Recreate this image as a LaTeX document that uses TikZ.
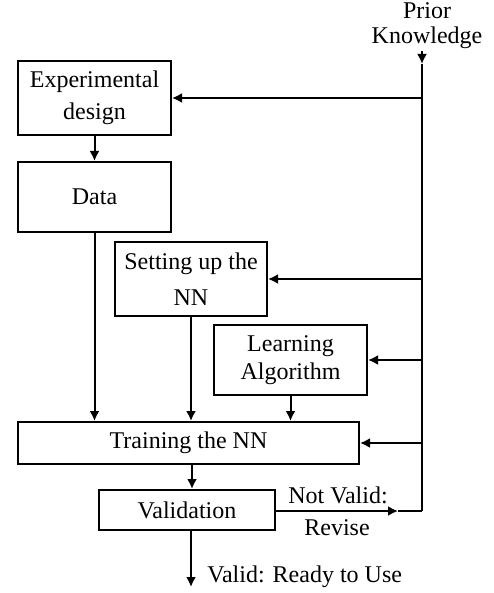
\documentclass[tikz,border=0pt]{standalone}
\usepackage{fontspec}
\setmainfont{Liberation Serif}
\usetikzlibrary{arrows.meta}
\begin{document}
\begin{tikzpicture}[x=0.5pt, y=-0.5pt,
    box/.style={draw, line width=1pt, align=center, inner sep=2pt, font=\fontsize{12}{16}\selectfont},
    lbl/.style={inner sep=1pt, align=center, font=\fontsize{12}{12.5}\selectfont},
    arr/.style={line width=1pt, -{Latex[length=5pt,width=5pt]}},
    ln/.style={line width=1pt}]
    \useasboundingbox[fill=white] (0,0) rectangle (493,593);

    % The boxes of the process
    \node[box, minimum width=76.5pt, minimum height=37pt] (exp) at (94.5,98) {Experimental\\design};
    \node[box, minimum width=76.5pt, minimum height=35pt] (data) at (94.5,197) {Data};
    \node[box, minimum width=76pt, minimum height=37pt] (setup) at (191,279) {Setting up the\\[2pt]NN};
    \node[box, minimum width=76.5pt, minimum height=35pt] (learn) at (290.5,360) {Learning\\[-2pt]Algorithm};
    \node[box, minimum width=170.5pt, minimum height=21pt] (train) at (188.5,443) {Training the NN};
    \node[box, minimum width=88pt, minimum height=20pt] (valid) at (187,510) {Validation};

    % Prior knowledge and the feedback bus
    \node[lbl, anchor=south] (pk) at (427,51) {Prior\\Knowledge};
    \coordinate (bustop) at (422,64);
    \coordinate (busbot) at (422,511);
    \draw[arr] (pk.south -| bustop) -- (bustop);
    \draw[ln] (bustop) -- (busbot);
    \draw[arr] (exp.east -| bustop) -- (exp.east);
    \draw[arr] (setup.east -| bustop) -- (setup.east);
    \draw[arr] (learn.east -| bustop) -- (learn.east);
    \draw[arr] (train.east -| bustop) -- (train.east);

    % Flow between the boxes
    \draw[arr] (exp.south) -- (data.north);
    \draw[arr] (data.south) -- (data.south |- train.north);
    \draw[arr] (setup.south) -- (setup.south |- train.north);
    \draw[arr] (learn.south) -- (learn.south |- train.north);
    \draw[arr] (train.south -| 192,0) -- (valid.north -| 192,0);

    % Outcome of the validation
    \coordinate (nvtip) at (398,511);
    \draw[arr] (valid.east |- nvtip) -- (nvtip);
    \draw[ln] (nvtip) -- (busbot);
    \node[lbl] (nv) at (338,495) {Not Valid:};
    \node[lbl] (rev) at (337,528) {Revise};
    \coordinate (out) at (191,587);
    \draw[arr] (valid.south -| out) -- (out);
    \node[lbl, anchor=west] (ready) at (205,577) {Valid: Ready to Use};
\end{tikzpicture}
\end{document}
